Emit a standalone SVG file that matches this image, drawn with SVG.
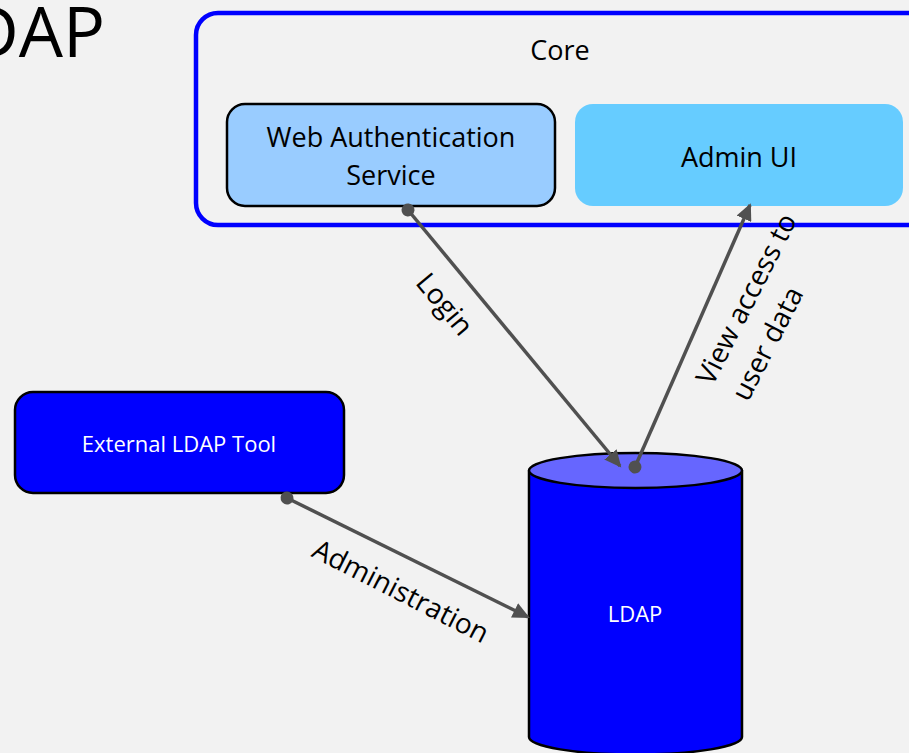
<svg xmlns="http://www.w3.org/2000/svg" width="909" height="753" viewBox="0 0 909 753">
<style>
text{font-family:"Open Sans","Liberation Sans",sans-serif;}
.lbl{font-size:27px;fill:#000;text-anchor:middle;}
.white{font-size:22px;fill:#fff;text-anchor:middle;}
.edge{font-size:28px;fill:#000;text-anchor:middle;}
.conn{stroke:#505050;stroke-width:3.5;fill:none;marker-start:url(#dot);marker-end:url(#arrow);}
.box{stroke:#000;stroke-width:2.5;}
</style>
<defs>
<marker id="arrow" markerUnits="userSpaceOnUse" markerWidth="18" markerHeight="16" refX="15" refY="8" orient="auto">
<path d="M0,0 L17,8 L0,16 z" fill="#505050"/>
</marker>
<marker id="dot" markerUnits="userSpaceOnUse" markerWidth="14" markerHeight="14" refX="7" refY="7" orient="auto">
<circle cx="7" cy="7" r="6.5" fill="#505050"/>
</marker>
</defs>
<rect width="909" height="753" fill="#f2f2f2"/>
<text x="-32" y="57" style="font-size:70px;fill:#000;">DAP</text>

<g id="core">
<rect x="196" y="13" width="740" height="212" rx="22" fill="none" stroke="#0000ff" stroke-width="4.5"/>
<text class="lbl" x="560" y="60">Core</text>
</g>
<g id="web-auth">
<rect class="box" x="227" y="104" width="328" height="102" rx="18" fill="#99ccff"/>
<text class="lbl" x="391" y="147">Web Authentication</text>
<text class="lbl" x="391" y="185">Service</text>
</g>
<g id="admin-ui">
<rect x="575" y="104" width="328" height="102" rx="18" fill="#66ccff"/>
<text class="lbl" x="739" y="167">Admin UI</text>
</g>
<g id="external-ldap-tool">
<rect class="box" x="15" y="392" width="329" height="101" rx="18" fill="#0000ff"/>
<text class="white" x="179" y="452">External LDAP Tool</text>
</g>
<g id="ldap">
<path d="M529,470.5 L529,737 A106.5,17.5 0 0 0 742,737 L742,470.5" fill="#0000ff" stroke="#000" stroke-width="2.5"/>
<ellipse cx="635.5" cy="470.5" rx="106.5" ry="17.5" fill="#6666ff" stroke="#000" stroke-width="2.5"/>
<text class="white" x="635" y="622">LDAP</text>
</g>

<g id="connectors">
<path class="conn" d="M408,210 L620,466"/>
<path class="conn" d="M635,467 L750,205"/>
<path class="conn" d="M287,498 L528,617"/>
<text class="edge" transform="translate(445,304) rotate(50)" dy="10">Login</text>
<text class="edge" transform="translate(746,299) rotate(-63)" dy="10">View access to</text>
<text class="edge" transform="translate(746,299) rotate(-63)" x="-30" y="39" dy="10">user data</text>
<text class="edge" transform="translate(401,591) rotate(27)" dy="10">Administration</text>
</g>
</svg>
